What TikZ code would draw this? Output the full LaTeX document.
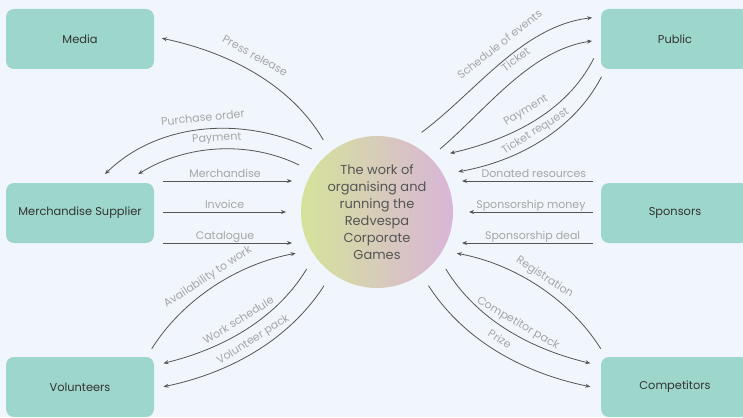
\documentclass[tikz,border=0pt]{standalone}
\usepackage{fontspec}
\setmainfont{Poppins}
\usetikzlibrary{arrows.meta}
\definecolor{bg}{HTML}{F1F6FC}
\definecolor{boxfill}{HTML}{9DD6CB}
\definecolor{boxtext}{HTML}{333333}
\definecolor{lbl}{HTML}{A6A6A6}
\definecolor{ln}{HTML}{555555}
\definecolor{cl}{HTML}{D5E39A}
\definecolor{cr}{HTML}{D9B5D8}
\begin{document}
\begin{tikzpicture}[x=1pt,y=-1pt,
  ent/.style={fill=boxfill, rounded corners=8pt, minimum width=148pt, minimum height=60pt, inner sep=0pt, text=boxtext, font=\fontsize{11.4}{13}\selectfont},
  flow/.style={draw=ln, line width=0.8pt, -{Stealth[length=5pt,width=4pt]}},
  lab/.style={text=lbl, font=\fontsize{11}{12}\selectfont, inner sep=0pt, text depth=0pt, sloped, above=3pt, pos=0.5},
  labc/.style={lab, above=4.5pt},
]
\fill[bg] (0,0) rectangle (743,417);
\useasboundingbox (0,0) rectangle (743,417);

\node[ent] (media) at (80,39) {Media};
\node[ent] (ms) at (80,213) {Merchandise Supplier};
\node[ent] (vol) at (80,387) {Volunteers};
\node[ent] (public) at (675,39) {Public};
\node[ent] (spons) at (675,213) {Sponsors};
\node[ent] (comp) at (675,387) {Competitors};

\node[circle, minimum size=152pt, inner sep=0pt, left color=cl, right color=cr, text=ln, align=center, font=\fontsize{13}{17}\selectfont] (c) at (377,212) {The work of\\organising and\\running the\\Redvespa\\Corporate\\Games};

% left top
\draw[flow] ([shift={(-53.7,-72)}]c.center) .. controls (289.2,81.5) and (223.5,51.2) .. ([shift={(7.7,-0.7)}]media.east) node[labc,pos=0.53,above=3.5pt]{Press release};
\draw[flow] ([shift={(-65.3,-63)}]c.center) .. controls (245.8,116.3) and (159.4,121) .. ([shift={(25,-8.7)}]ms.north) node[labc]{Purchase order};
\draw[flow] ([shift={(-78,-47)}]c.center) .. controls (248.4,140.2) and (185.7,144.6) .. ([shift={(58.3,-8.7)}]ms.north) node[labc]{Payment};

% left horizontals
\draw[flow] ([shift={(9,-32)}]ms.east) -- ([shift={(-85,-31)}]c.center) node[lab,pos=0.48]{Merchandise};
\draw[flow] ([shift={(9,-1)}]ms.east) -- ([shift={(-91,0)}]c.center) node[lab]{Invoice};
\draw[flow] ([shift={(9,30)}]ms.east) -- ([shift={(-85,31)}]c.center) node[lab,pos=0.48]{Catalogue};

% left bottom
\draw[flow] ([shift={(71.7,-8)}]vol.north) .. controls (183,299) and (238,264) .. ([shift={(-81.3,41.3)}]c.center) node[labc]{Availability to work};
\draw[flow] ([shift={(-70.3,57)}]c.center) .. controls (275.1,320.7) and (220.6,349.3) .. ([shift={(9.3,-23.7)}]vol.east) node[labc]{Work schedule};
\draw[flow] ([shift={(-53,73.7)}]c.center) .. controls (288,341.6) and (227.1,373.6) .. ([shift={(9.3,-0.3)}]vol.east) node[labc,pos=0.47]{Volunteer pack};

% right top
\draw[flow] ([shift={(44.7,-79.7)}]c.center) .. controls (476,92) and (522,26) .. ([shift={(-8.7,-21.3)}]public.west) node[labc,pos=0.55,above=3.5pt]{Schedule of events};
\draw[flow] ([shift={(63,-63)}]c.center) .. controls (486,110) and (530,50) .. ([shift={(-8.7,2)}]public.west) node[labc,pos=0.6,above=3.5pt]{Ticket};
\draw[flow] ([shift={(-7,19.3)}]public.west) .. controls (565.9,113.8) and (506.7,140.2) .. ([shift={(73,-58.7)}]c.center) node[labc,above=2.5pt]{Payment};
\draw[flow] ([shift={(0.7,37.7)}]public.west) .. controls (573.7,130.6) and (516.4,161.5) .. ([shift={(81.3,-40.3)}]c.center) node[labc]{Ticket request};

% right horizontals
\draw[flow] ([shift={(-8,-32)}]spons.west) -- ([shift={(85,-31)}]c.center) node[lab,pos=0.45]{Donated resources};
\draw[flow] ([shift={(-8,-1)}]spons.west) -- ([shift={(92,0)}]c.center) node[lab]{Sponsorship money};
\draw[flow] ([shift={(-8,30)}]spons.west) -- ([shift={(85,31)}]c.center) node[lab,pos=0.46]{Sponsorship deal};

% right bottom
\draw[flow] ([shift={(-74.2,-8)}]comp.north) .. controls (569.5,299) and (514.5,264) .. ([shift={(79.8,41.3)}]c.center) node[labc]{Registration};
\draw[flow] ([shift={(68.8,57)}]c.center) .. controls (477.4,320.7) and (531.9,349.3) .. ([shift={(-10.5,-23.7)}]comp.west) node[labc,pos=0.53]{Competitor pack};
\draw[flow] ([shift={(51.5,73.7)}]c.center) .. controls (464.5,341.6) and (525.4,373.6) .. ([shift={(-10.5,-0.3)}]comp.west) node[labc,pos=0.47]{Prize};
\end{tikzpicture}
\end{document}
